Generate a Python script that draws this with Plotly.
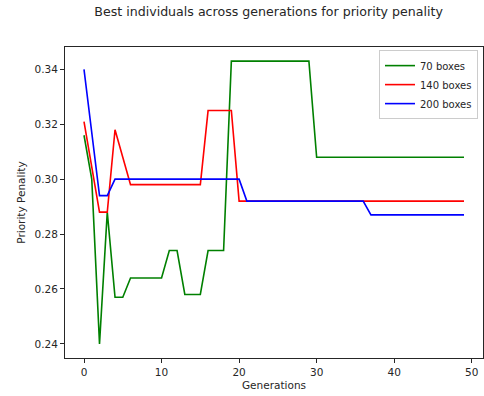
import plotly.graph_objects as go

generations = list(range(50))

boxes_70 = [0.316, 0.300, 0.240, 0.288, 0.257, 0.257, 0.264, 0.264, 0.264, 0.264,
            0.264, 0.274, 0.274, 0.258, 0.258, 0.258, 0.274, 0.274, 0.274, 0.343,
            0.343, 0.343, 0.343, 0.343, 0.343, 0.343, 0.343, 0.343, 0.343, 0.343,
            0.308, 0.308, 0.308, 0.308, 0.308, 0.308, 0.308, 0.308, 0.308, 0.308,
            0.308, 0.308, 0.308, 0.308, 0.308, 0.308, 0.308, 0.308, 0.308, 0.308]

boxes_140 = [0.321, 0.305, 0.288, 0.288, 0.318, 0.308, 0.298, 0.298, 0.298, 0.298,
             0.298, 0.298, 0.298, 0.298, 0.298, 0.298, 0.325, 0.325, 0.325, 0.325,
             0.292, 0.292, 0.292, 0.292, 0.292, 0.292, 0.292, 0.292, 0.292, 0.292,
             0.292, 0.292, 0.292, 0.292, 0.292, 0.292, 0.292, 0.292, 0.292, 0.292,
             0.292, 0.292, 0.292, 0.292, 0.292, 0.292, 0.292, 0.292, 0.292, 0.292]

boxes_200 = [0.340, 0.317, 0.294, 0.294, 0.300, 0.300, 0.300, 0.300, 0.300, 0.300,
             0.300, 0.300, 0.300, 0.300, 0.300, 0.300, 0.300, 0.300, 0.300, 0.300,
             0.300, 0.292, 0.292, 0.292, 0.292, 0.292, 0.292, 0.292, 0.292, 0.292,
             0.292, 0.292, 0.292, 0.292, 0.292, 0.292, 0.292, 0.287, 0.287, 0.287,
             0.287, 0.287, 0.287, 0.287, 0.287, 0.287, 0.287, 0.287, 0.287, 0.287]

series = [("70 boxes", boxes_70, "green"),
          ("140 boxes", boxes_140, "red"),
          ("200 boxes", boxes_200, "blue")]

x_ticks = [0, 10, 20, 30, 40, 50]
y_ticks = [0.24, 0.26, 0.28, 0.30, 0.32, 0.34]
y_tick_labels = ["0.24", "0.26", "0.28", "0.30", "0.32", "0.34"]

fig = go.Figure()
for name, vals, color in series:
    fig.add_trace(go.Scatter(x=generations, y=vals, mode="lines", name=name,
                             line=dict(color=color, width=1.6)))

font_family = "DejaVu Sans"
axis_common = dict(showgrid=False, zeroline=False, showline=True, mirror=True,
                   linecolor="#262626", linewidth=1, ticks="outside", ticklen=4,
                   tickcolor="#262626", tickfont=dict(size=10.5, color="#262626"))

fig.update_layout(
    width=484, height=396,
    margin=dict(l=65, r=1, t=47, b=38),
    paper_bgcolor="white", plot_bgcolor="white",
    font=dict(family=font_family, color="#262626"),
    title=dict(text="Best individuals across generations for priority penality",
               x=0.555, xanchor="center", y=0.97, yanchor="middle",
               font=dict(size=12.6, color="#262626")),
    xaxis=dict(range=[-2.45, 51.45], tickvals=x_ticks,
               title=dict(text="Generations", font=dict(size=10.5), standoff=5),
               **axis_common),
    yaxis=dict(range=[0.23485, 0.34815], tickvals=y_ticks, ticktext=y_tick_labels,
               title=dict(text="Priority Penality", font=dict(size=10.5), standoff=6),
               **axis_common),
    legend=dict(x=0.988, y=0.99, xanchor="right", yanchor="top",
                bgcolor="rgba(255,255,255,0.8)", bordercolor="#cccccc", borderwidth=1,
                font=dict(size=10), tracegroupgap=0, itemwidth=30),
    showlegend=True,
)

fig.write_html("out.html")
